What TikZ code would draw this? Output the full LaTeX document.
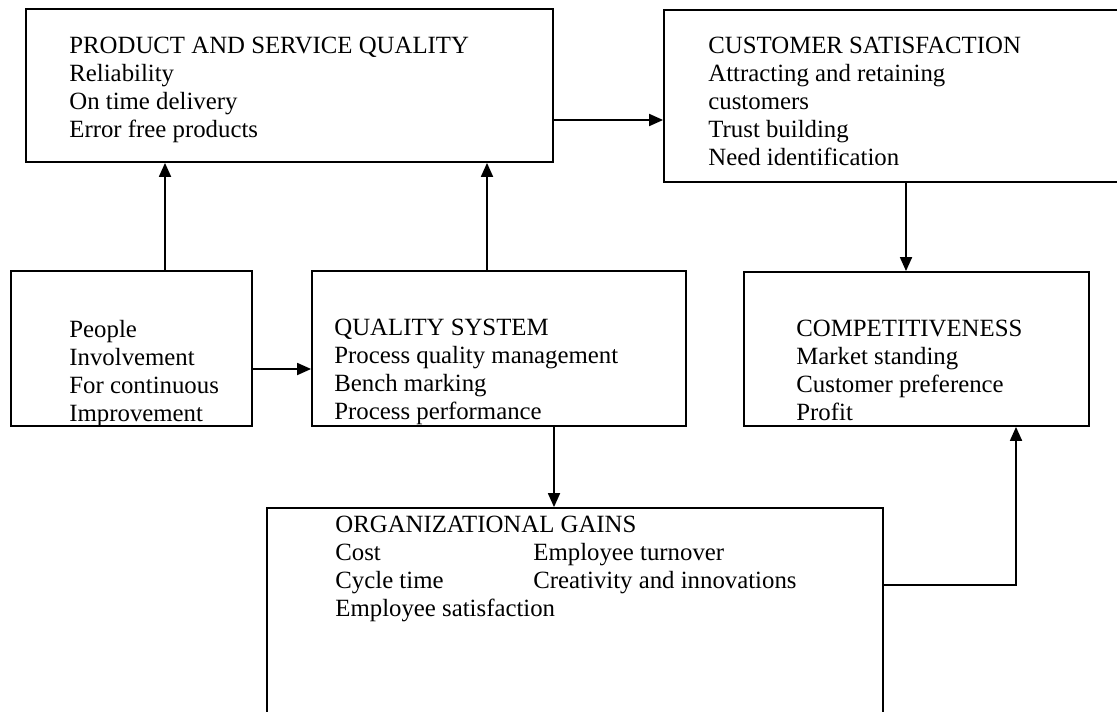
\documentclass[tikz,border=0pt]{standalone}
\usepackage{fontspec}
\setmainfont{Liberation Serif}
\usetikzlibrary{arrows.meta, fit}

\begin{document}
\begin{tikzpicture}[x=0.5pt, y=-0.5pt,
	box/.style={draw, line width=0.9pt, inner sep=0pt},
	txt/.style={anchor=north west, align=left, inner sep=0pt,
		font=\fontsize{12.4}{13.9}\selectfont},
	arr/.style={line width=0.9pt, -{Triangle[length=7pt, width=6pt]}}]
	\useasboundingbox (0,0) rectangle (1117,711);

	% the six blocks
	\node [box, fit={(26,9) (553,162)}] (psq) {};
	\node [box, fit={(664,10) (1124,182)}] (cs) {};
	\node [box, fit={(11,271) (252,426)}] (ppl) {};
	\node [box, fit={(312,271) (686,426)}] (qs) {};
	\node [box, fit={(744,272) (1089,426)}] (comp) {};
	\node [box, fit={(267,508) (883,722)}] (og) {};

	% their texts
	\node [txt] (psqtxt) at (69,37)
		{PRODUCT AND SERVICE QUALITY\\Reliability\\On time delivery\\Error free products};
	\node [txt] (cstxt) at (708,37)
		{CUSTOMER SATISFACTION\\Attracting and retaining\\customers\\Trust building\\Need identification};
	\node [txt] (ppltxt) at (69,320)
		{People\\Involvement\\For continuous\\Improvement};
	\node [txt] (qstxt) at (334,319)
		{QUALITY SYSTEM\\Process quality management\\Bench marking\\Process performance};
	\node [txt] (comptxt) at (796,320)
		{COMPETITIVENESS\\Market standing\\Customer preference\\Profit};
	\node [txt] (ogtxt) at (335,516)
		{ORGANIZATIONAL GAINS\\
		\makebox[99pt][l]{Cost}Employee turnover\\
		\makebox[99pt][l]{Cycle time}Creativity and innovations\\
		Employee satisfaction};

	% arrows
	\draw [arr] (165,0 |- ppl.north) -- (165,0 |- psq.south);
	\draw [arr] (487,0 |- qs.north) -- (487,0 |- psq.south);
	\draw [arr] (psq.east |- 0,120) -- (cs.west |- 0,120);
	\draw [arr] (906,0 |- cs.south) -- (906,0 |- comp.north);
	\draw [arr] (ppl.east |- 0,369) -- (qs.west |- 0,369);
	\draw [arr] (554,0 |- qs.south) -- (554,0 |- og.north);
	\draw [arr] (og.east |- 0,585) -| (1016,0 |- comp.south);
\end{tikzpicture}
\end{document}
